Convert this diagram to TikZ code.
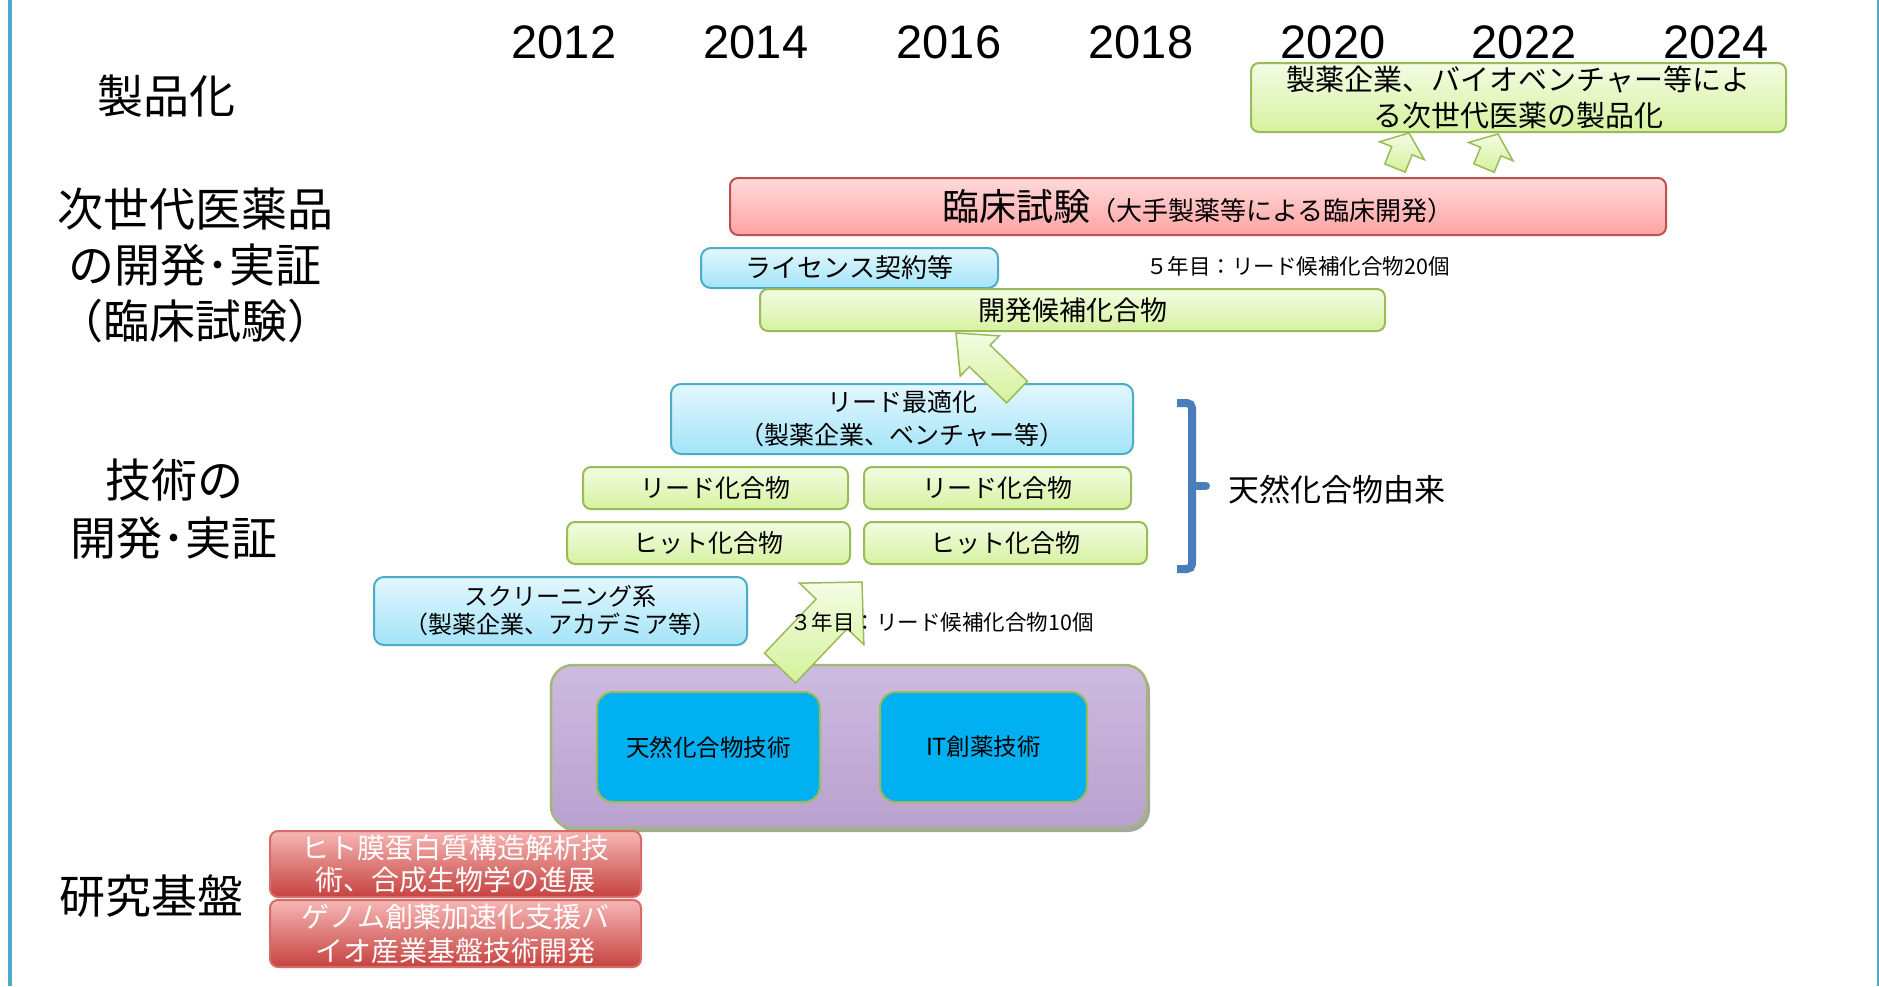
\documentclass[tikz,border=0pt]{standalone}
\usepackage{fontspec}
\setmainfont{Noto Sans CJK JP}
\newfontfamily\yearfont{Liberation Sans}
\usetikzlibrary{calc,shadows}
\definecolor{grnline}{HTML}{9BBB59}
\definecolor{grntop}{HTML}{F3FCE3}
\definecolor{grnbot}{HTML}{D6F2A0}
\definecolor{bluline}{HTML}{4BACC6}
\definecolor{blutop}{HTML}{E3F7FE}
\definecolor{blubot}{HTML}{A3E4F8}
\definecolor{pnkline}{HTML}{C0504D}
\definecolor{pnktop}{HTML}{FFDADA}
\definecolor{pnkbot}{HTML}{FFA3A3}
\definecolor{redline}{HTML}{D86C69}
\definecolor{redtop}{HTML}{F6B7B5}
\definecolor{redbot}{HTML}{C6423F}
\definecolor{cyanfill}{HTML}{00B0F0}
\definecolor{platline}{HTML}{A3B878}
\definecolor{plattop}{HTML}{CDBBDF}
\definecolor{platbot}{HTML}{B9A1CF}
\definecolor{brkcol}{HTML}{4A7EBB}
\definecolor{arrtop}{HTML}{F4FCE4}
\definecolor{arrbot}{HTML}{D4F29A}
\definecolor{sidebar}{HTML}{4BACC6}
\newcommand\fsz[2]{\fontsize{#1}{#2}\selectfont}
\newcommand\blkarrow[5]{%
  \coordinate (hd) at ($(#2)!#5!(#1)$);
  \path[blk] ($(#1)!#3!90:(#2)$) -- ($(hd)!#3!90:(#2)$) -- ($(hd)!#4!90:(#2)$) -- (#2)
    -- ($(hd)!#4!-90:(#2)$) -- ($(hd)!#3!-90:(#2)$) -- ($(#1)!#3!-90:(#2)$) -- cycle;
}
\tikzset{
  every node/.style={inner sep=0pt, outer sep=0pt},
  box/.style={rounded corners=8pt, line width=2pt, align=center, text=black},
  gbox/.style={box, draw=grnline, top color=grntop, bottom color=grnbot},
  bbox/.style={box, draw=bluline, top color=blutop, bottom color=blubot, rounded corners=10pt},
  pbox/.style={box, draw=pnkline, top color=pnktop, bottom color=pnkbot},
  rbox/.style={box, draw=redline, top color=redtop, bottom color=redbot, text=white},
  cbox/.style={box, draw=grnline, fill=cyanfill, rounded corners=16pt},
  platbox/.style={rounded corners=22pt, line width=2.5pt, draw=platline, top color=plattop, bottom color=platbot,
    drop shadow={shadow xshift=3pt, shadow yshift=-4pt, fill=black, opacity=0.35}},
  lbl/.style={align=center, font=\fsz{46}{56}},
  yearlbl/.style={font=\yearfont\fsz{47}{50}},
  note/.style={font=\fsz{21.5}{24}},
  bracket/.style={draw=brkcol, line width=8pt},
  sidebarline/.style={draw=sidebar},
  blk/.style={top color=arrtop, bottom color=arrbot, draw=grnline, line width=1.5pt, line join=miter},
}
\begin{document}
\begin{tikzpicture}[x=1pt,y=-1pt]
\useasboundingbox[fill=white] (0,0) rectangle (1879,986);
% side bars
\draw[sidebarline, line width=4.5pt] (10.2,0) -- (10.2,986);
\draw[sidebarline, line width=3pt] (1878.5,0) -- (1878.5,986);
% years
\foreach \yr/\xx in {2012/564, 2014/756, 2016/949, 2018/1141, 2020/1333, 2022/1524, 2024/1716}
  \node[yearlbl] (y\yr) at (\xx,42) {\yr};
% left labels
\node[lbl] (lprod) at (166,96) {製品化};
\node[lbl] (lclin) at (195,265) {次世代医薬品\\の開発･実証\\（臨床試験）};
\node[lbl, font=\fsz{46}{58}] (ltech) at (174,509) {技術の\\開発･実証};
\node[lbl] (lbase) at (151,896) {研究基盤};
% commercialisation
\node[gbox, minimum width=535pt, minimum height=69pt, font=\fsz{29}{36}] (prod) at (1518.5,97.5)
  {製薬企業、バイオベンチャー等によ\\る次世代医薬の製品化};
% clinical trial
\node[pbox, minimum width=936pt, minimum height=57pt] (clin) at (1198,206.5)
  {{\fsz{37}{40}臨床試験}{\fsz{26}{30}（大手製薬等による臨床開発）}};
\node[bbox, minimum width=297pt, minimum height=40pt, font=\fsz{26}{30}] (lic) at (849.5,268) {ライセンス契約等};
\node[gbox, minimum width=625pt, minimum height=42pt, font=\fsz{27}{30}] (dev) at (1072.5,310) {開発候補化合物};
\node[note] (note5) at (1298,266) {５年目：リード候補化合物20個};
% technology
\node[bbox, minimum width=462pt, minimum height=70pt, font=\fsz{25}{33}] (opt) at (902,419)
  {リード最適化\\（製薬企業、ベンチャー等）};
\node[gbox, minimum width=265pt, minimum height=42pt, font=\fsz{25}{30}] (lead1) at (715.5,488) {リード化合物};
\node[gbox, minimum width=267pt, minimum height=42pt, font=\fsz{25}{30}] (lead2) at (997.5,488) {リード化合物};
\node[gbox, minimum width=283pt, minimum height=42pt, font=\fsz{25}{30}] (hit1) at (708.5,543) {ヒット化合物};
\node[gbox, minimum width=283pt, minimum height=42pt, font=\fsz{25}{30}] (hit2) at (1005.5,543) {ヒット化合物};
\node[bbox, minimum width=373pt, minimum height=68pt, font=\fsz{24}{28}] (scr) at (560.5,611)
  {スクリーニング系\\（製薬企業、アカデミア等）};
% bracket
\draw[bracket, rounded corners=5pt] (1177,403) -- (1192,403) -- (1192,569) -- (1177,569);
\draw[bracket, line cap=round] (1192,486) -- (1206,486);
\node[font=\fsz{31}{34}] (natlbl) at (1337,490) {天然化合物由来};
% platform
\node[platbox, minimum width=596pt, minimum height=163pt] (plat) at (849,746.5) {};
\node[cbox, minimum width=223pt, minimum height=110pt, font=\fsz{23.5}{28}] (nat) at (708.5,747) {天然化合物技術};
\node[cbox, minimum width=207pt, minimum height=110pt, font=\fsz{23.5}{28}] (itd) at (983.5,747) {IT創薬技術};
% research base
\node[rbox, minimum width=371pt, minimum height=66pt, font=\fsz{28}{32}] (red1) at (455.5,864)
  {ヒト膜蛋白質構造解析技\\術、合成生物学の進展};
\node[rbox, minimum width=371pt, minimum height=67pt, font=\fsz{28}{34}] (red2) at (455.5,933.5)
  {ゲノム創薬加速化支援バ\\イオ産業基盤技術開発};
% block arrows
\coordinate (b1t) at (1395,168); \coordinate (b1h) at (1409,133);
\blkarrow{b1t}{b1h}{11pt}{24pt}{19pt}
\coordinate (b2t) at (1484,168); \coordinate (b2h) at (1498,134);
\blkarrow{b2t}{b2h}{11pt}{24pt}{19pt}
\coordinate (at) at (1017,392); \coordinate (ah) at (956,333);
\blkarrow{at}{ah}{15pt}{28pt}{33pt}
\coordinate (ct) at (780,668); \coordinate (ch) at (862,582);
\blkarrow{ct}{ch}{21.5pt}{44.5pt}{44pt}
\node[note] (note3) at (942,622) {３年目：リード候補化合物10個};
\end{tikzpicture}
\end{document}
